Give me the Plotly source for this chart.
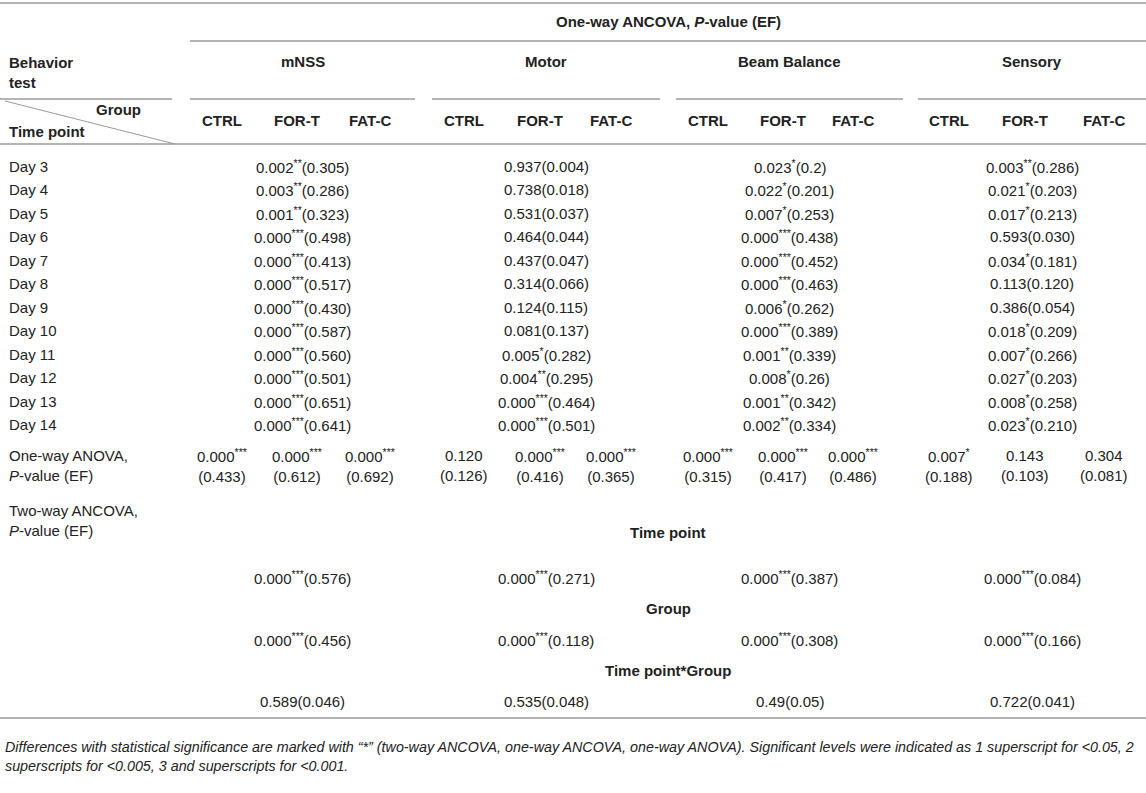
import plotly.graph_objects as go

# ── data ──────────────────────────────────────────────────────────────────
tests = ["mNSS", "Motor", "Beam Balance", "Sensory"]
groups = ["CTRL", "FOR-T", "FAT-C"]
days = ["Day 3", "Day 4", "Day 5", "Day 6", "Day 7", "Day 8",
        "Day 9", "Day 10", "Day 11", "Day 12", "Day 13", "Day 14"]

# one-way ANCOVA per day: (p-value, stars, effect) for each test
mnss_ancova = [("0.002", 2, "0.305"), ("0.003", 2, "0.286"), ("0.001", 2, "0.323"),
               ("0.000", 3, "0.498"), ("0.000", 3, "0.413"), ("0.000", 3, "0.517"),
               ("0.000", 3, "0.430"), ("0.000", 3, "0.587"), ("0.000", 3, "0.560"),
               ("0.000", 3, "0.501"), ("0.000", 3, "0.651"), ("0.000", 3, "0.641")]
motor_ancova = [("0.937", 0, "0.004"), ("0.738", 0, "0.018"), ("0.531", 0, "0.037"),
                ("0.464", 0, "0.044"), ("0.437", 0, "0.047"), ("0.314", 0, "0.066"),
                ("0.124", 0, "0.115"), ("0.081", 0, "0.137"), ("0.005", 1, "0.282"),
                ("0.004", 2, "0.295"), ("0.000", 3, "0.464"), ("0.000", 3, "0.501")]
beam_ancova = [("0.023", 1, "0.2"), ("0.022", 1, "0.201"), ("0.007", 1, "0.253"),
               ("0.000", 3, "0.438"), ("0.000", 3, "0.452"), ("0.000", 3, "0.463"),
               ("0.006", 1, "0.262"), ("0.000", 3, "0.389"), ("0.001", 2, "0.339"),
               ("0.008", 1, "0.26"), ("0.001", 2, "0.342"), ("0.002", 2, "0.334")]
sensory_ancova = [("0.003", 2, "0.286"), ("0.021", 1, "0.203"), ("0.017", 1, "0.213"),
                  ("0.593", 0, "0.030"), ("0.034", 1, "0.181"), ("0.113", 0, "0.120"),
                  ("0.386", 0, "0.054"), ("0.018", 1, "0.209"), ("0.007", 1, "0.266"),
                  ("0.027", 1, "0.203"), ("0.008", 1, "0.258"), ("0.023", 1, "0.210")]

# one-way ANOVA per test and group
anova_p = ["0.000", "0.000", "0.000", "0.120", "0.000", "0.000",
           "0.000", "0.000", "0.000", "0.007", "0.143", "0.304"]
anova_stars = [3, 3, 3, 0, 3, 3, 3, 3, 3, 1, 0, 0]
anova_ef = ["0.433", "0.612", "0.692", "0.126", "0.416", "0.365",
            "0.315", "0.417", "0.486", "0.188", "0.103", "0.081"]

# two-way ANCOVA
two_way_terms = ["Time point", "Group", "Time point*Group"]
two_way_time = [("0.000", 3, "0.576"), ("0.000", 3, "0.271"), ("0.000", 3, "0.387"), ("0.000", 3, "0.084")]
two_way_group = [("0.000", 3, "0.456"), ("0.000", 3, "0.118"), ("0.000", 3, "0.308"), ("0.000", 3, "0.166")]
two_way_inter = [("0.589", 0, "0.046"), ("0.535", 0, "0.048"), ("0.49", 0, "0.05"), ("0.722", 0, "0.041")]

footnote = ("<i>Differences with statistical significance are marked with \u201c*\u201d (two-way ANCOVA, "
            "one-way ANCOVA, one-way ANOVA). Significant levels were indicated as 1 superscript for &lt;0.05, 2<br>"
            "superscripts for &lt;0.005, 3 and superscripts for &lt;0.001.</i>")

# ── layout (pixels) ───────────────────────────────────────────────────────
W, H = 1146, 793
span_x = [(190, 415), (432, 660), (676, 903), (918, 1146)]
col_x = [222, 297, 370, 464, 540, 611, 708, 783, 853, 949, 1025, 1104]
day_y0, day_dy = 166, 23.5
FONT = "Liberation Sans, Arial, sans-serif"
FS = 15
TXT = "#222222"
LINE = "#b4b4b4"


def pv(p, stars, ef, br=False):
    s = p + (f"<sup>{'*' * stars}</sup>" if stars else "")
    return s + ("<br>" if br else "") + f"({ef})"


fig = go.Figure()
ann = []


def add(x, y, text, anchor="center", bold=False, size=FS):
    ann.append(dict(x=x, y=y, text=f"<b>{text}</b>" if bold else text,
                    xanchor=anchor, yanchor="middle", showarrow=False,
                    font=dict(family=FONT, size=size, color=TXT), align="left" if anchor == "left" else "center"))


# header
add(668, 21, "One-way ANCOVA, <i>P</i>-value (EF)", bold=True)
add(7, 72, "Behavior<br>test", anchor="left", bold=True)
for t, (a, b) in zip(tests, span_x):
    add((a + b) / 2, 61, t, bold=True)
for i, x in enumerate(col_x):
    add(x, 120, groups[i % 3], bold=True)
add(143, 109, "Group", anchor="right", bold=True)
add(7, 131, "Time point", anchor="left", bold=True)

# day rows
for i, d in enumerate(days):
    y = day_y0 + i * day_dy
    add(7, y, d, anchor="left")
    for series, (a, b) in zip([mnss_ancova, motor_ancova, beam_ancova, sensory_ancova], span_x):
        add((a + b) / 2, y, pv(*series[i]))

# one-way ANOVA row
add(7, 465, "One-way ANOVA,<br><i>P</i>-value (EF)", anchor="left")
for i, x in enumerate(col_x):
    add(x, 465, pv(anova_p[i], anova_stars[i], anova_ef[i], br=True))

# two-way ANCOVA block
add(7, 520, "Two-way ANCOVA,<br><i>P</i>-value (EF)", anchor="left")
term_y = [532, 608, 670]
val_y = [577, 639, 701]
for term, ty, vy, series in zip(two_way_terms, term_y, val_y, [two_way_time, two_way_group, two_way_inter]):
    add(668, ty, term, bold=True)
    for v, (a, b) in zip(series, span_x):
        add((a + b) / 2, vy, pv(*v))

add(3, 756, footnote, anchor="left", size=14.3)

# rules
shapes = []


def hline(x0, x1, y):
    shapes.append(dict(type="line", x0=x0, x1=x1, y0=y, y1=y, line=dict(color=LINE, width=2)))


hline(0, W, 3)
hline(190, W, 41)
hline(0, 172, 99)
for a, b in span_x:
    hline(a, b, 99)
hline(0, W, 144)
hline(0, W, 718)
shapes.append(dict(type="line", x0=5, x1=175, y0=101, y1=144, line=dict(color="#999999", width=1)))

fig.update_layout(
    width=W, height=H, margin=dict(l=0, r=0, t=0, b=0),
    plot_bgcolor="white", paper_bgcolor="white",
    xaxis=dict(range=[0, W], visible=False, fixedrange=True),
    yaxis=dict(range=[H, 0], visible=False, fixedrange=True),
    annotations=ann, shapes=shapes, showlegend=False,
)
fig.write_html("out.html", config={"displayModeBar": False},
               post_script="document.body.style.margin='0';")
